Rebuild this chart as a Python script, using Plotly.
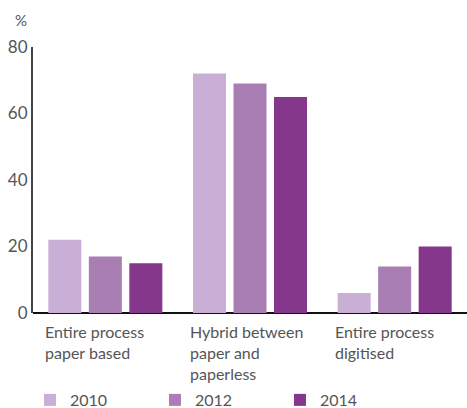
import plotly.graph_objects as go

categories = ["Entire process<br>paper based", "Hybrid between<br>paper and<br>paperless", "Entire process<br>digitised"]
years = ["2010", "2012", "2014"]
values_2010 = [22, 72, 6]
values_2012 = [17, 69, 14]
values_2014 = [15, 65, 20]
series = [values_2010, values_2012, values_2014]
colors = ["#C9AFD6", "#A97FB3", "#84378B"]
ytick_vals = [0, 20, 40, 60, 80]
ytick_text = ["0", "20", "40", "60", "80"]

xcat = [0, 1, 2]

fig = go.Figure()
for name, vals, col in zip(years, series, colors):
    fig.add_trace(go.Bar(x=xcat, y=vals, name=name, marker=dict(color=col, line=dict(width=0))))

# category labels, left aligned under each group
for i, lab in enumerate(categories):
    fig.add_annotation(x=xcat[i], y=0, xref="x", yref="y", text=lab, showarrow=False,
                       xanchor="left", yanchor="top", align="left",
                       xshift=-61, yshift=-8, borderpad=0,
                       font=dict(size=16, color="#555555"))

fig.add_annotation(x=-0.028, y=1.10, xref="paper", yref="paper", text="%", showarrow=False,
                   xanchor="center", yanchor="middle",
                   font=dict(size=15, color="#555555"))

fig.update_layout(
    width=467, height=408,
    margin=dict(l=33, r=0, t=47, b=95, autoexpand=False),
    paper_bgcolor="white", plot_bgcolor="white",
    barmode="group", bargap=0.16, bargroupgap=0.185,
    font=dict(family="Lato, sans-serif", size=16, color="#555555"),
    showlegend=True,
    legend=dict(orientation="h", x=-0.007, xanchor="left", y=-0.327, yanchor="middle",
                font=dict(size=16, color="#555555"),
                entrywidth=80, entrywidthmode="pixels"),
    xaxis=dict(range=[-0.5, 2.5], showticklabels=False, showgrid=False, zeroline=False,
               showline=False, fixedrange=True),
    yaxis=dict(range=[0, 80], tickvals=ytick_vals, ticktext=ytick_text, showgrid=False,
               zeroline=True, zerolinecolor="#111111", zerolinewidth=2,
               showline=True, linecolor="#444444", linewidth=2, ticks="",
               ticklabelshift=0, ticklabelstandoff=0,
               tickfont=dict(size=17, color="#555555")),
)

fig.write_html("out.html")
